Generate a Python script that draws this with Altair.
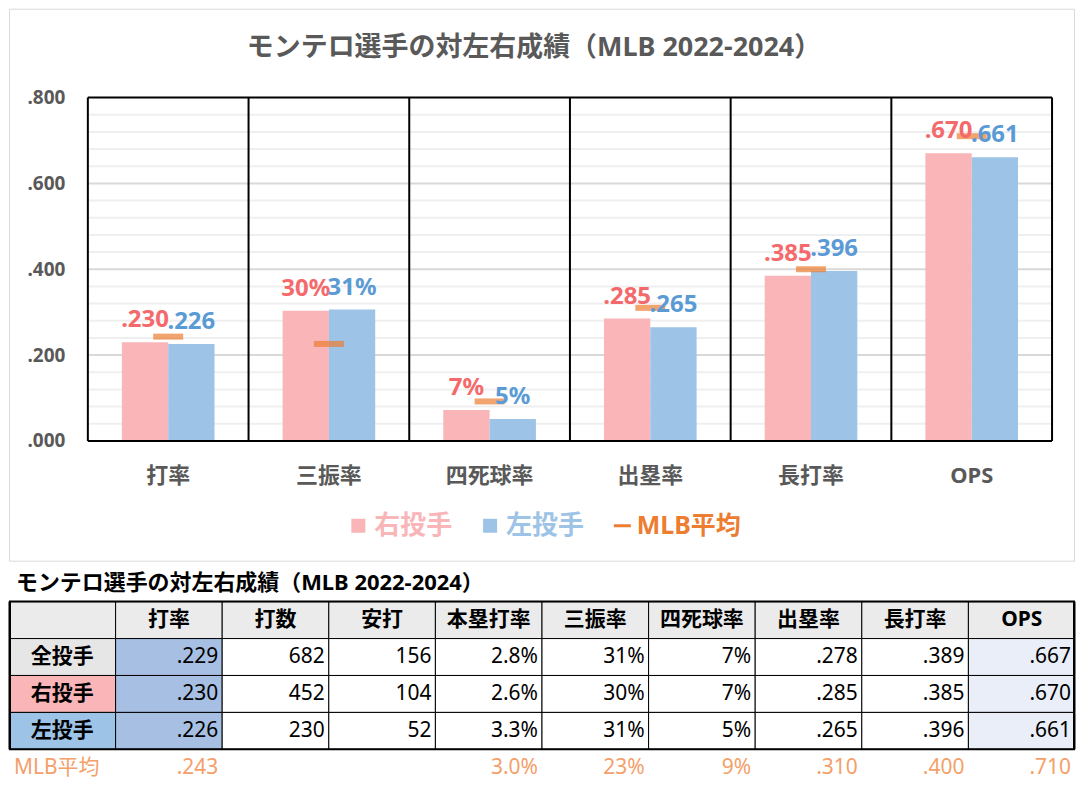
import altair as alt
import pandas as pd

# ---------------- data ----------------
categories = ["打率", "三振率", "四死球率", "出塁率", "長打率", "OPS"]
series_names = ["右投手", "左投手"]
right_values = [0.230, 0.303, 0.072, 0.285, 0.385, 0.670]
left_values = [0.226, 0.306, 0.051, 0.265, 0.396, 0.661]
right_labels = [".230", "30%", "7%", ".285", ".385", ".670"]
left_labels = [".226", "31%", "5%", ".265", ".396", ".661"]
mlb_values = [0.243, 0.226, 0.092, 0.310, 0.400, 0.710]
mlb_legend = "MLB平均"
chart_title = "モンテロ選手の対左右成績（MLB 2022-2024）"

y_ticks = [0.0, 0.2, 0.4, 0.6, 0.8]
major_grid = [0.2, 0.4, 0.6]
minor_grid = [0.04, 0.08, 0.12, 0.16, 0.24, 0.28, 0.32, 0.36,
              0.44, 0.48, 0.52, 0.56, 0.64, 0.68, 0.72, 0.76]
frame_lines = [0.0, 0.8]

table_title = "モンテロ選手の対左右成績（MLB 2022-2024）"
table_header = ["", "打率", "打数", "安打", "本塁打率", "三振率", "四死球率", "出塁率", "長打率", "OPS"]
table_row_names = ["全投手", "右投手", "左投手"]
row_all = [".229", "682", "156", "2.8%", "31%", "7%", ".278", ".389", ".667"]
row_right = [".230", "452", "104", "2.6%", "30%", "7%", ".285", ".385", ".670"]
row_left = [".226", "230", "52", "3.3%", "31%", "5%", ".265", ".396", ".661"]
row_mlb = [".243", "", "", "3.0%", "23%", "9%", ".310", ".400", ".710"]

# ---------------- styles ----------------
PINK = "#F9B5B8"
BLUE = "#9DC3E6"
PINK_TXT = "#F4696B"
BLUE_TXT = "#5B9BD5"
ORANGE = "#ED7D31"
MLB_TXT = "#F4A06A"
GRAY_TXT = "#595959"
FONT = "'Noto Sans', 'Noto Sans CJK JP'"

W, H = 966, 344
LEFT = 79  # plot-area left inside the outer box

bar_df = pd.DataFrame({
    "cat": categories * 2,
    "series": [series_names[0]] * 6 + [series_names[1]] * 6,
    "value": right_values + left_values,
    "label": right_labels + left_labels,
    "fill": [PINK] * 6 + [BLUE] * 6,
    "tcolor": [PINK_TXT] * 6 + [BLUE_TXT] * 6,
})
mlb_df = pd.DataFrame({"cat": categories, "value": mlb_values})
cat_df = pd.DataFrame({"cat": categories})
minor_df = pd.DataFrame({"value": minor_grid})
major_df = pd.DataFrame({"value": major_grid})
frame_df = pd.DataFrame({"value": frame_lines})
one = pd.DataFrame({"a": [0]})

x_scale = alt.Scale(domain=categories, paddingInner=0, paddingOuter=0)
x_axis = alt.Axis(title=None, labelFont=FONT, labelFontSize=22, labelFontWeight="bold",
                  labelColor=GRAY_TXT, ticks=False, domain=False, grid=False,
                  labelPadding=35, labelBaseline="middle", labelAngle=0)
x_enc = alt.X("cat:N", sort=categories, scale=x_scale, axis=x_axis)
x_start = alt.X("cat:N", sort=categories, scale=x_scale, axis=x_axis, bandPosition=0)
y_enc = alt.Y("value:Q", scale=alt.Scale(domain=[0, 0.8], nice=False),
              axis=alt.Axis(title=None, values=y_ticks, grid=False, ticks=False, domain=False,
                            labelExpr="replace(format(datum.value, '.3f'), '0.', '.')",
                            labelPadding=23, labelFontSize=19, labelFontWeight="bold",
                            labelColor=GRAY_TXT, labelFont=FONT))
xo_enc = alt.XOffset("series:N", sort=series_names,
                     scale=alt.Scale(domain=series_names, paddingInner=0, paddingOuter=0.735))

border = alt.Chart(one).mark_rect(fillOpacity=0, stroke="#D9D9D9", strokeWidth=1).encode(
    x=alt.value(-78.5), x2=alt.value(988.5), y=alt.value(-88.5), y2=alt.value(464.5))
minor = alt.Chart(minor_df).mark_rule(color="#EFEFEF", strokeWidth=2).encode(y=y_enc)
major = alt.Chart(major_df).mark_rule(color="#D9D9D9", strokeWidth=2).encode(y=y_enc)
bars = alt.Chart(bar_df).mark_bar().encode(
    x=x_enc, xOffset=xo_enc, y=y_enc, color=alt.Color("fill:N", scale=None))
ticks = alt.Chart(mlb_df).mark_tick(color=ORANGE, size=30, thickness=6, orient="horizontal").encode(
    x=x_enc, y=y_enc)
vlines = alt.Chart(cat_df).mark_rule(color="black", strokeWidth=2).encode(x=x_start)
rline = alt.Chart(one).mark_rule(color="black", strokeWidth=2).encode(
    x=alt.value(W), y=alt.value(0), y2=alt.value(H))
hlines = alt.Chart(frame_df).mark_rule(color="black", strokeWidth=2).encode(y=y_enc)
labels = alt.Chart(bar_df).mark_text(font=FONT, fontSize=24, fontWeight="bold",
                                     baseline="alphabetic", dy=-15).encode(
    x=x_enc, xOffset=xo_enc, y=y_enc, text="label:N", color=alt.Color("tcolor:N", scale=None))

title_txt = alt.Chart(one).mark_text(text=chart_title, font=FONT, fontSize=27, fontWeight="bold",
                                     color=GRAY_TXT, align="center", baseline="middle").encode(
    x=alt.value(447), y=alt.value(-50))

LY = 429
leg_sq1 = alt.Chart(one).mark_square(size=196, color=PINK, opacity=1).encode(x=alt.value(271), y=alt.value(LY))
leg_t1 = alt.Chart(one).mark_text(text=series_names[0], font=FONT, fontSize=26, fontWeight="bold",
                                  color=PINK, align="left", baseline="middle").encode(x=alt.value(287), y=alt.value(LY))
leg_sq2 = alt.Chart(one).mark_square(size=196, color=BLUE, opacity=1).encode(x=alt.value(403), y=alt.value(LY))
leg_t2 = alt.Chart(one).mark_text(text=series_names[1], font=FONT, fontSize=26, fontWeight="bold",
                                  color=BLUE, align="left", baseline="middle").encode(x=alt.value(419), y=alt.value(LY))
leg_dash = alt.Chart(one).mark_rule(color=ORANGE, strokeWidth=3).encode(
    x=alt.value(527), x2=alt.value(544), y=alt.value(LY))
leg_t3 = alt.Chart(one).mark_text(text=mlb_legend, font=FONT, fontSize=25, fontWeight="bold",
                                  color=ORANGE, align="left", baseline="middle").encode(x=alt.value(550), y=alt.value(LY))

top = alt.layer(border, minor, major, bars, ticks, vlines, rline, hlines, labels,
                title_txt, leg_sq1, leg_t1, leg_sq2, leg_t2, leg_dash, leg_t3).properties(width=W, height=H)

# ---------------- table ----------------
col_keys = [f"c{i}" for i in range(len(table_header))]
row_keys = ["hdr", "r1", "r2", "r3", "mlb"]
row_fill = {"r1": "#E7E6E6", "r2": PINK, "r3": BLUE}
data_rows = {"r1": row_all, "r2": row_right, "r3": row_left}

cells = []
center_txt = []
num_txt = []
for ci, ck in enumerate(col_keys):
    cells.append({"col": ck, "row": "hdr", "fill": "#EBEBEB"})
    if table_header[ci]:
        center_txt.append({"col": ck, "row": "hdr", "txt": table_header[ci]})
for ri, rk in enumerate(["r1", "r2", "r3"]):
    cells.append({"col": "c0", "row": rk, "fill": row_fill[rk]})
    center_txt.append({"col": "c0", "row": rk, "txt": table_row_names[ri]})
    for ci in range(1, len(col_keys)):
        fill = "#A6BFE2" if ci == 1 else ("#E9EEF8" if ci == len(col_keys) - 1 else "#FFFFFF")
        cells.append({"col": col_keys[ci], "row": rk, "fill": fill})
        num_txt.append({"col": col_keys[ci], "row": rk, "txt": data_rows[rk][ci - 1], "tcolor": "#000000"})
for ci in range(1, len(col_keys)):
    if row_mlb[ci - 1]:
        num_txt.append({"col": col_keys[ci], "row": "mlb", "txt": row_mlb[ci - 1], "tcolor": MLB_TXT})

TOTAL_W = 1068
TW, TH = TOTAL_W - 2 * LEFT, 185
tx_scale = alt.Scale(domain=col_keys, paddingInner=0, paddingOuter=0, range=[-LEFT, TOTAL_W - LEFT])
ty_scale = alt.Scale(domain=row_keys, paddingInner=0, paddingOuter=0)
tx = alt.X("col:N", sort=col_keys, scale=tx_scale, axis=None)
tx_end = alt.X("col:N", sort=col_keys, scale=tx_scale, axis=None, bandPosition=1)
tx_start = alt.X("col:N", sort=col_keys, scale=tx_scale, axis=None, bandPosition=0)
ty = alt.Y("row:N", sort=row_keys, scale=ty_scale, axis=None)

t_cells = alt.Chart(pd.DataFrame(cells)).mark_rect(stroke="black", strokeWidth=1).encode(
    x=tx, y=ty, fill=alt.Fill("fill:N", scale=None))
t_center = alt.Chart(pd.DataFrame(center_txt)).mark_text(font=FONT, fontSize=21, fontWeight="bold",
                                                         color="black").encode(x=tx, y=ty, text="txt:N")
t_nums = alt.Chart(pd.DataFrame(num_txt)).mark_text(font=FONT, fontSize=21, align="right", dx=-4).encode(
    x=tx_end, y=ty, text="txt:N", color=alt.Color("tcolor:N", scale=None))
t_mlb = alt.Chart(pd.DataFrame({"col": ["c0"], "row": ["mlb"], "txt": [mlb_legend]})).mark_text(
    font=FONT, fontSize=21, align="left", dx=5, color=MLB_TXT).encode(x=tx_start, y=ty, text="txt:N")
t_border = alt.Chart(one).mark_rect(fillOpacity=0, stroke="black", strokeWidth=2).encode(
    x=alt.value(-LEFT + 1), x2=alt.value(TOTAL_W - LEFT - 1), y=alt.value(0), y2=alt.value(148))
t_title = alt.Chart(one).mark_text(text=table_title, font=FONT, fontSize=22, fontWeight="bold",
                                   color="black", align="left", baseline="middle").encode(
    x=alt.value(7 - LEFT), y=alt.value(-19))

table = alt.layer(t_cells, t_border, t_center, t_nums, t_mlb, t_title).properties(width=TW, height=TH)

chart = alt.vconcat(top, table, spacing=10).properties(padding=0).configure_view(stroke=None)

chart.save("out.html", embed_options={"renderer": "svg", "actions": False})
